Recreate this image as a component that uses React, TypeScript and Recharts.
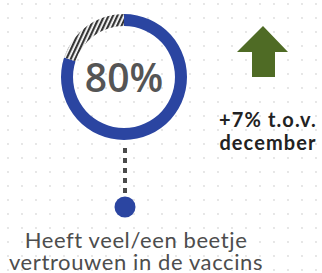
import { PieChart, Pie, Cell } from "recharts";

const W = 322;
const H = 273;

// share that has (some) trust, and the rest
const segments = [
  { name: "vertrouwen", value: 80 },
  { name: "overig", value: 20 },
];
const mainLabel = "80%";
const changeLines = ["+7% t.o.v.", "december"];
const captionLines = ["Heeft veel/een beetje", "vertrouwen in de vaccins"];

const BLUE = "#2b45a1";
const GREEN = "#4f6b25";
const GREY_TEXT = "#4d4d4d";

function DotGrid() {
  const dots = [];
  for (let y = 4; y < H; y += 14) {
    for (let x = 8; x < W; x += 14) {
      dots.push(<circle key={`${x}-${y}`} cx={x} cy={y} r={0.9} fill="#dcdcdc" />);
    }
  }
  return <g>{dots}</g>;
}

export default function App() {
  const cx = 124;
  const cy = 77;
  return (
    <div style={{ position: "absolute", left: 0, top: 0, width: W, height: H, background: "#fff" }}>
      <PieChart width={W} height={H} margin={{ top: 0, right: 0, bottom: 0, left: 0 }}>
        <defs>
          <pattern id="hatch" width="4" height="4" patternUnits="userSpaceOnUse" patternTransform="rotate(25)">
            <rect width="4" height="4" fill="#ffffff" />
            <rect width="2.2" height="4" fill="#363636" />
          </pattern>
        </defs>
        <DotGrid />
        <Pie
          data={segments}
          dataKey="value"
          cx={cx}
          cy={cy}
          innerRadius={51}
          outerRadius={63}
          startAngle={90}
          endAngle={-270}
          stroke="none"
          isAnimationActive={false}
        >
          <Cell fill={BLUE} />
          <Cell fill="url(#hatch)" />
        </Pie>
        <text x={cx} y={92} textAnchor="middle" fontFamily="Open Sans, sans-serif" fontWeight={600} fontSize={39} fill="#555">
          {mainLabel}
        </text>
        {/* connector */}
        <line x1={125} y1={148} x2={125} y2={200} stroke="#4a4a4a" strokeWidth={4} strokeDasharray="5 5" />
        <circle cx={125} cy={207} r={10.5} fill={BLUE} />
        {/* up arrow */}
        <polygon points="263,26 288,52 275,52 275,77 252,77 252,52 237,52" fill={GREEN} />
        {changeLines.map((t, i) => (
          <text key={t} x={268} y={127 + i * 23} textAnchor="middle" fontFamily="Lato, sans-serif" fontWeight="bold" fontSize={20} letterSpacing={1.1} fill="#222">
            {t}
          </text>
        ))}
        {captionLines.map((t, i) => (
          <text key={t} x={136} y={248 + i * 22} textAnchor="middle" fontFamily="Lato, sans-serif" fontSize={22} letterSpacing={0.6} fill={GREY_TEXT}>
            {t}
          </text>
        ))}
      </PieChart>
    </div>
  );
}
